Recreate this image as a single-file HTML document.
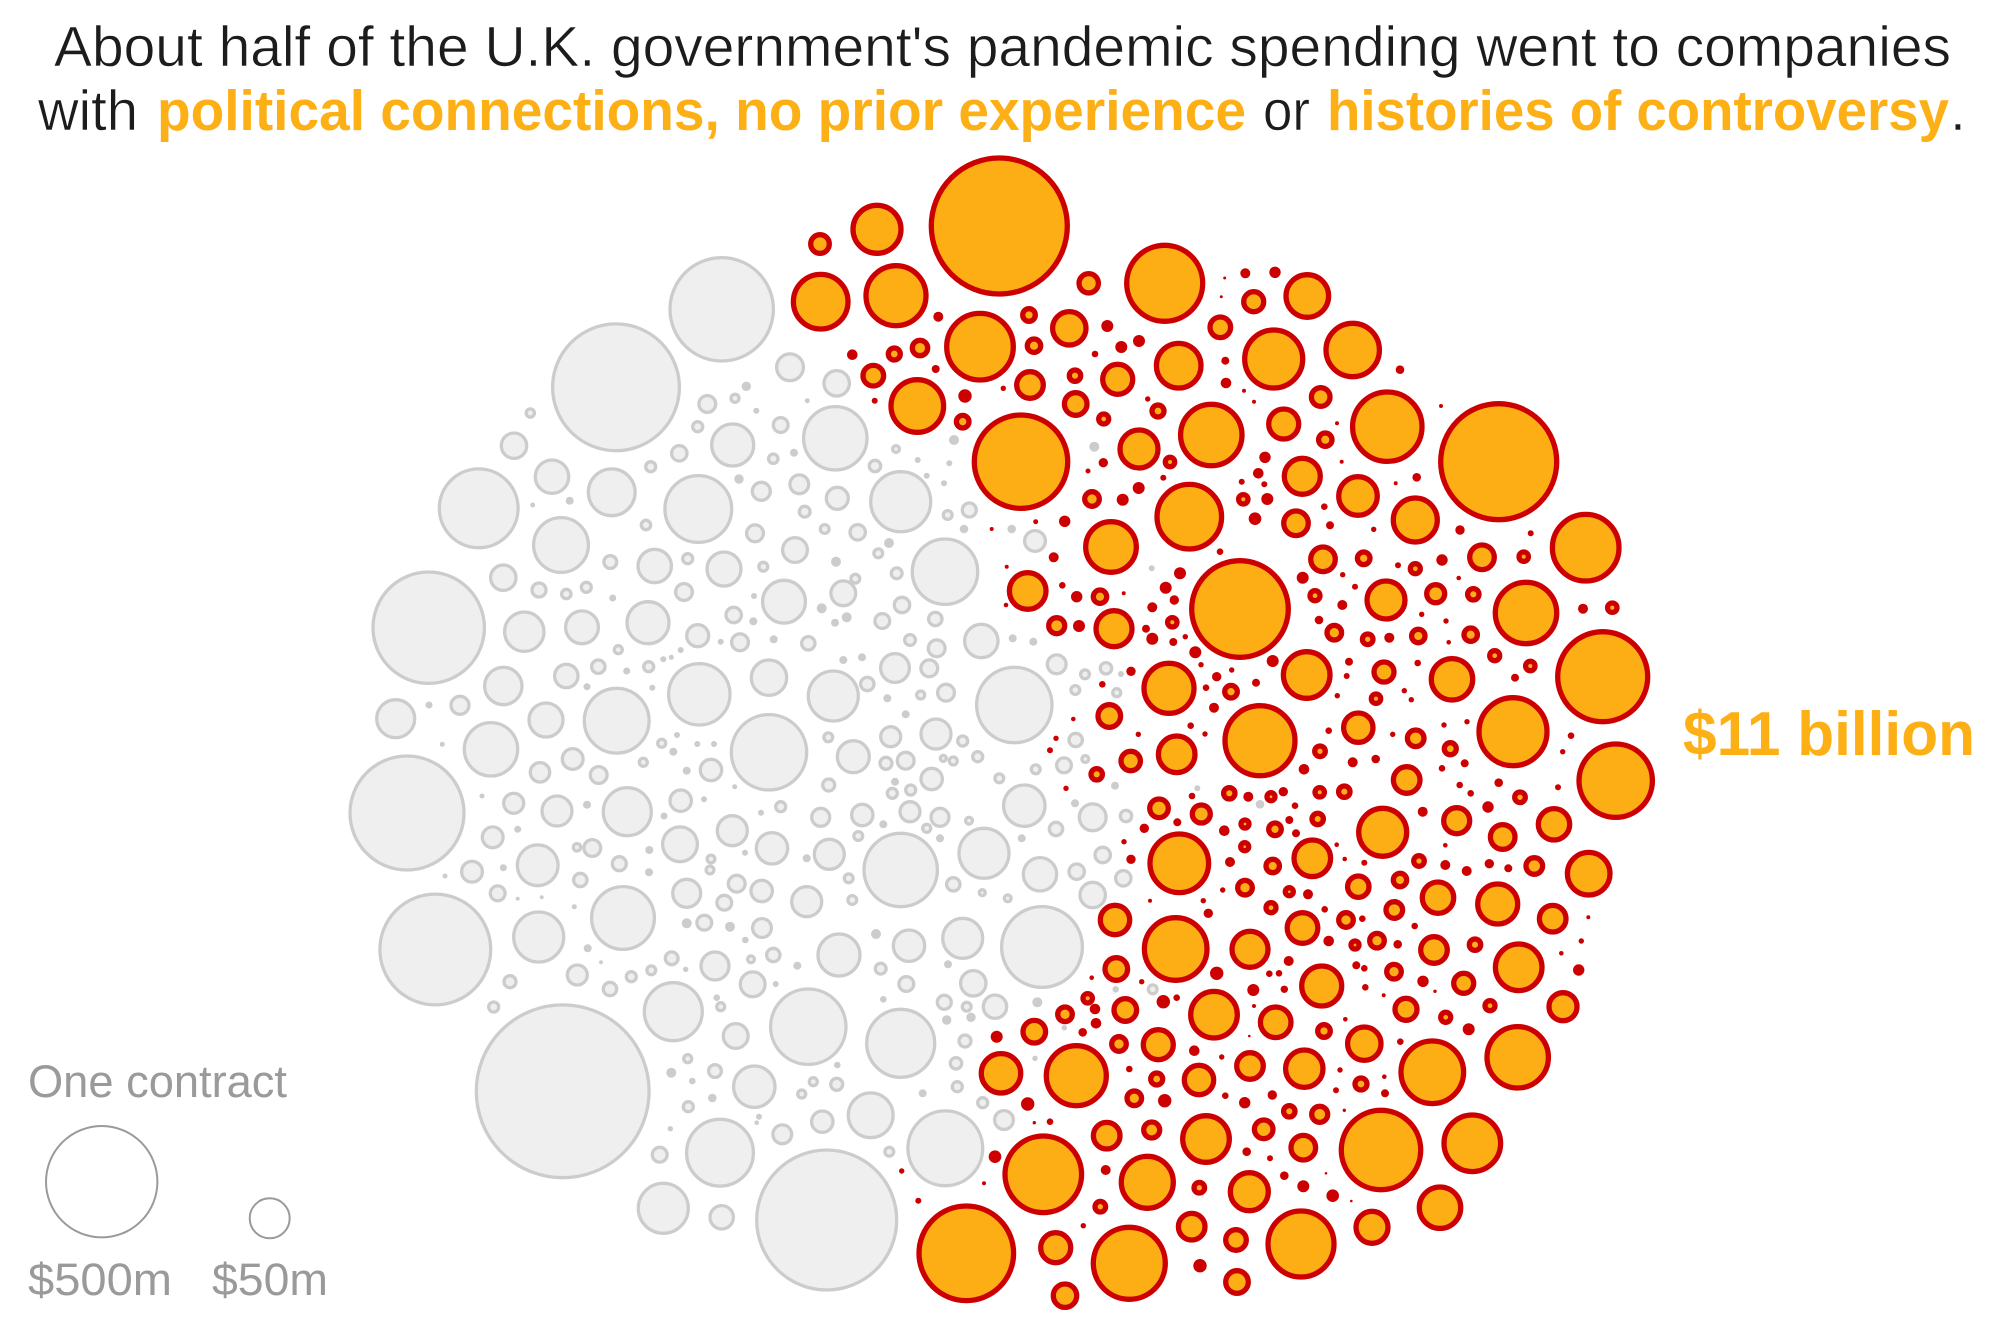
<!DOCTYPE html>
<html>
<head>
<meta charset="utf-8">
<style>
html,body{margin:0;padding:0;background:#fff;}
svg{display:block;}
.g circle{fill:#efefef;stroke:#cccccc;stroke-width:3.3;}
.gd circle{fill:#cccccc;}
.o circle{fill:#fdae14;stroke:#cc0000;stroke-width:5.3;}
.r circle{fill:#cc0000;}
text{font-family:"Liberation Sans",Arial,sans-serif;}
.t{fill:#1c1c1c;stroke:#fff;stroke-width:0.6;}
</style>
</head>
<body>
<svg width="2000" height="1331" viewBox="0 0 2000 1331" xmlns="http://www.w3.org/2000/svg">
<rect width="2000" height="1331" fill="#fff"/>
<text class="t" x="54" y="66" font-size="57" textLength="1897" lengthAdjust="spacingAndGlyphs">About half of the U.K. government's pandemic spending went to companies</text>
<text class="t" x="38" y="130" font-size="57" textLength="100" lengthAdjust="spacingAndGlyphs">with</text>
<text x="157" y="130" font-size="57" font-weight="bold" fill="#fdb015" textLength="1089" lengthAdjust="spacingAndGlyphs">political connections, no prior experience</text>
<text class="t" x="1263" y="130" font-size="57" textLength="47" lengthAdjust="spacingAndGlyphs">or</text>
<text x="1327" y="130" font-size="57" font-weight="bold" fill="#fdb015" textLength="622" lengthAdjust="spacingAndGlyphs">histories of controversy</text>
<text class="t" x="1950" y="130" font-size="57">.</text>
<text x="28" y="1097" font-size="45" fill="#9a9a9a" textLength="259" lengthAdjust="spacingAndGlyphs">One contract</text>
<circle cx="101.7" cy="1181.7" r="55.7" fill="none" stroke="#9a9a9a" stroke-width="2"/>
<circle cx="269.7" cy="1218.3" r="20" fill="none" stroke="#9a9a9a" stroke-width="2"/>
<text x="28" y="1295" font-size="45" fill="#9a9a9a" textLength="144" lengthAdjust="spacingAndGlyphs">$500m</text>
<text x="212" y="1295" font-size="45" fill="#9a9a9a" textLength="116" lengthAdjust="spacingAndGlyphs">$50m</text>
<text x="1683" y="755" font-size="62" font-weight="bold" fill="#fdb015" textLength="292" lengthAdjust="spacingAndGlyphs">$11 billion</text>
<g class="g">
<circle cx="721.7" cy="309.3" r="51.7"/><circle cx="616" cy="387.3" r="63.4"/><circle cx="478.7" cy="508.3" r="39.4"/><circle cx="514" cy="445.7" r="12.7"/><circle cx="530.3" cy="413" r="4.1"/><circle cx="552" cy="476.7" r="16.7"/><circle cx="611.7" cy="492.3" r="23.4"/><circle cx="698.3" cy="509" r="33.4"/><circle cx="732.7" cy="445" r="21"/><circle cx="707.3" cy="404" r="8.4"/><circle cx="679.3" cy="453.3" r="7.7"/><circle cx="697.7" cy="426.7" r="5"/><circle cx="735" cy="398.3" r="4"/><circle cx="650.7" cy="466.7" r="5"/><circle cx="780.7" cy="425" r="7.4"/><circle cx="773.3" cy="458.7" r="4.7"/><circle cx="761.3" cy="491.3" r="9"/><circle cx="790" cy="367.3" r="13.4"/><circle cx="646" cy="525" r="4.7"/><circle cx="561" cy="545" r="27.4"/><circle cx="755" cy="533.3" r="8.4"/>
<circle cx="835.3" cy="438.3" r="31.7"/><circle cx="836.7" cy="383.3" r="12.7"/><circle cx="900.7" cy="501.7" r="30"/><circle cx="799.3" cy="484.3" r="9.4"/><circle cx="837.3" cy="498.3" r="11"/><circle cx="875" cy="466" r="5.7"/><circle cx="896" cy="449" r="3.4"/><circle cx="804.7" cy="511.7" r="5.4"/><circle cx="824.7" cy="529" r="4.4"/><circle cx="857.7" cy="532.3" r="7.7"/><circle cx="969.3" cy="510" r="7"/><circle cx="947.7" cy="515" r="4.4"/><circle cx="1035" cy="541" r="10.4"/>
<circle cx="428.7" cy="627.7" r="55.7"/><circle cx="407" cy="813" r="57"/><circle cx="395.7" cy="718.7" r="19"/><circle cx="460" cy="705.3" r="9"/><circle cx="503.3" cy="577.7" r="12.7"/><circle cx="524.3" cy="631.7" r="19.7"/><circle cx="503.3" cy="686" r="18.7"/><circle cx="491" cy="749.3" r="26.7"/><circle cx="546" cy="720" r="17"/><circle cx="539" cy="590" r="7"/><circle cx="566.3" cy="594" r="4.7"/><circle cx="586.3" cy="587.3" r="5"/><circle cx="610.3" cy="562" r="6.4"/><circle cx="654.7" cy="566" r="16.7"/><circle cx="687.7" cy="558.7" r="5"/><circle cx="724" cy="569" r="17"/><circle cx="763.3" cy="566.7" r="4.4"/><circle cx="784" cy="601.7" r="21.4"/><circle cx="582" cy="627.3" r="16.4"/><circle cx="648" cy="622.7" r="21"/><circle cx="697.7" cy="635.7" r="11"/><circle cx="733.7" cy="615" r="7.7"/><circle cx="740" cy="642.3" r="8.4"/><circle cx="684" cy="592" r="8.4"/><circle cx="566.3" cy="676" r="11.7"/><circle cx="598.3" cy="666.7" r="6.7"/><circle cx="618.3" cy="649.7" r="4"/><circle cx="648.7" cy="666.7" r="5"/><circle cx="616.7" cy="720.7" r="32.4"/><circle cx="699.3" cy="694.3" r="30.7"/><circle cx="769" cy="677.7" r="17.7"/><circle cx="769" cy="752.3" r="37.7"/><circle cx="572.7" cy="759" r="10.4"/><circle cx="540" cy="772.3" r="9.7"/><circle cx="598.7" cy="775" r="8.4"/><circle cx="513.7" cy="803.3" r="10"/><circle cx="557" cy="811" r="15"/><circle cx="627.3" cy="811.7" r="24"/><circle cx="680.7" cy="800.7" r="10.7"/><circle cx="711" cy="770" r="10.7"/><circle cx="732.3" cy="830.7" r="15"/><circle cx="772" cy="848.3" r="15.7"/><circle cx="680" cy="844.3" r="17.4"/><circle cx="492.7" cy="837.3" r="10.4"/><circle cx="537.7" cy="865.3" r="20.4"/><circle cx="592.3" cy="848" r="8.4"/><circle cx="577" cy="847.3" r="3.7"/><circle cx="619.3" cy="863.7" r="7"/><circle cx="472" cy="871.7" r="10.4"/><circle cx="497.7" cy="893.3" r="7.4"/><circle cx="580.3" cy="880" r="6.7"/><circle cx="686.7" cy="893.3" r="14"/><circle cx="736.7" cy="883.7" r="8.4"/><circle cx="761.7" cy="891" r="10.7"/><circle cx="724.3" cy="902.7" r="7.4"/><circle cx="623" cy="918" r="31.4"/><circle cx="435.3" cy="949.5" r="55.4"/><circle cx="538.7" cy="937" r="25"/><circle cx="762" cy="928" r="9.4"/><circle cx="711" cy="859" r="3.9"/><circle cx="710" cy="870" r="3.9"/><circle cx="780.7" cy="806.7" r="5"/><circle cx="661.7" cy="743.3" r="4"/><circle cx="643.3" cy="762.3" r="4"/><circle cx="704.3" cy="922.7" r="7.4"/>
<circle cx="945" cy="571.7" r="32.7"/><circle cx="1014.3" cy="705" r="37.7"/><circle cx="833.3" cy="696" r="25"/><circle cx="981.3" cy="641" r="16.7"/><circle cx="843.3" cy="593.3" r="12.4"/><circle cx="855.3" cy="578.7" r="4.4"/><circle cx="902" cy="605" r="7.7"/><circle cx="882.3" cy="621" r="7.4"/><circle cx="935.3" cy="619" r="6.7"/><circle cx="808.3" cy="643.3" r="6.7"/><circle cx="936.7" cy="648.3" r="8.4"/><circle cx="895" cy="668" r="14.4"/><circle cx="929.3" cy="668.3" r="8.4"/><circle cx="867.3" cy="684" r="6.7"/><circle cx="946" cy="692.7" r="8.4"/><circle cx="920.7" cy="695" r="4"/><circle cx="1056.7" cy="664.3" r="9.4"/><circle cx="1085" cy="674.3" r="4.4"/><circle cx="1106" cy="668.3" r="5.7"/><circle cx="1075.3" cy="690" r="4.4"/><circle cx="1116.7" cy="692.7" r="4"/><circle cx="853.3" cy="756.7" r="16"/><circle cx="890.7" cy="736.7" r="10"/><circle cx="936" cy="734" r="15"/><circle cx="828.3" cy="737.3" r="4.4"/><circle cx="905.7" cy="760.7" r="8.4"/><circle cx="886" cy="763.3" r="6"/><circle cx="962.7" cy="741" r="5"/><circle cx="977.7" cy="756.7" r="5"/><circle cx="953.3" cy="761" r="4"/><circle cx="943.3" cy="758.3" r="3"/><circle cx="931.7" cy="779" r="10.7"/><circle cx="828.7" cy="785" r="6"/><circle cx="910.7" cy="790" r="5"/><circle cx="892.3" cy="793.3" r="5"/><circle cx="1075.7" cy="740" r="6.7"/><circle cx="1064" cy="765.3" r="7.4"/><circle cx="1085.3" cy="759" r="3.4"/><circle cx="1035.7" cy="769.3" r="4.4"/><circle cx="999.3" cy="778.3" r="4.4"/><circle cx="1024.3" cy="805.7" r="20.7"/><circle cx="1092.7" cy="817.3" r="13.4"/><circle cx="1126" cy="816" r="5.7"/><circle cx="820.7" cy="817.3" r="9"/><circle cx="862.3" cy="815" r="10.7"/><circle cx="910" cy="811.7" r="10"/><circle cx="940" cy="817.3" r="9"/><circle cx="969" cy="820.7" r="3.4"/><circle cx="926.7" cy="828.3" r="4"/><circle cx="858.3" cy="836" r="4.4"/><circle cx="1056" cy="829" r="6.7"/><circle cx="829.3" cy="854.3" r="15"/><circle cx="900.7" cy="870" r="36.7"/><circle cx="984" cy="853.3" r="25"/><circle cx="1040" cy="874.3" r="16.7"/><circle cx="1102.7" cy="855" r="7.7"/><circle cx="1076.7" cy="871.7" r="7.7"/><circle cx="1123.3" cy="878.3" r="7.7"/><circle cx="1092.7" cy="895" r="12.7"/><circle cx="953.3" cy="884.3" r="6.7"/><circle cx="848.7" cy="878.3" r="4.4"/><circle cx="852.3" cy="900" r="4.4"/><circle cx="806.7" cy="901.7" r="15"/><circle cx="982.3" cy="892.7" r="3"/><circle cx="1007.7" cy="898.3" r="3.4"/><circle cx="1042" cy="947" r="40.4"/><circle cx="962.7" cy="938.3" r="20"/><circle cx="795" cy="550" r="12.4"/><circle cx="878.3" cy="553.3" r="4.4"/><circle cx="896.7" cy="573.3" r="5.4"/><circle cx="910" cy="640" r="5.4"/>
<circle cx="562.7" cy="1091.3" r="86.4"/><circle cx="673.3" cy="1011.7" r="29"/><circle cx="720" cy="1152.7" r="33.4"/><circle cx="663.3" cy="1208.3" r="25"/><circle cx="721.7" cy="1217.3" r="11.7"/><circle cx="754.3" cy="1086.7" r="20.7"/><circle cx="735.7" cy="1036" r="12.4"/><circle cx="715" cy="966" r="14"/><circle cx="752.7" cy="984.3" r="12.4"/><circle cx="577.3" cy="975" r="10"/><circle cx="610" cy="989" r="6.7"/><circle cx="631.3" cy="976.7" r="5"/><circle cx="651.3" cy="970.3" r="4.4"/><circle cx="671.7" cy="958.3" r="6.4"/><circle cx="510" cy="981.7" r="6"/><circle cx="493.7" cy="1007" r="5"/><circle cx="687.7" cy="1058.7" r="4"/><circle cx="715" cy="1071" r="6.4"/><circle cx="688.3" cy="1106.7" r="5"/><circle cx="659.7" cy="1154.7" r="7.4"/><circle cx="782.3" cy="1134.3" r="9.4"/><circle cx="773.3" cy="955" r="6.7"/><circle cx="751" cy="959.3" r="3.4"/><circle cx="720.7" cy="1006.7" r="4"/>
<circle cx="826.7" cy="1220" r="70"/><circle cx="808.3" cy="1026.7" r="37.7"/><circle cx="900.7" cy="1043.3" r="34"/><circle cx="945.3" cy="1148.3" r="37.4"/><circle cx="839" cy="955" r="21"/><circle cx="909" cy="945.7" r="15.7"/><circle cx="870.7" cy="1115.3" r="22.4"/><circle cx="822.3" cy="1121.7" r="10.7"/><circle cx="973.3" cy="983.3" r="12.7"/><circle cx="995" cy="1006.7" r="11.7"/><circle cx="944.3" cy="1002.3" r="7"/><circle cx="966.7" cy="1006.7" r="4.4"/><circle cx="906.3" cy="984" r="7.4"/><circle cx="880.7" cy="968.7" r="5.4"/><circle cx="965" cy="1041" r="6"/><circle cx="956" cy="1063.3" r="5.7"/><circle cx="957.3" cy="1086.7" r="5"/><circle cx="982.7" cy="1102.7" r="5"/><circle cx="1004" cy="1120" r="9.4"/><circle cx="836.7" cy="1084.3" r="6"/><circle cx="813.3" cy="1081.7" r="4"/><circle cx="801.7" cy="1094" r="4"/><circle cx="889.3" cy="1151.7" r="4.4"/><circle cx="1152.7" cy="989.3" r="4.4"/>
</g>
<g class="gd">
<circle cx="746.3" cy="386.3" r="4.7"/><circle cx="739" cy="479" r="4.7"/><circle cx="569.7" cy="500.7" r="4"/><circle cx="756.3" cy="410.7" r="3"/><circle cx="532.7" cy="505" r="2.5"/><circle cx="954" cy="440" r="5"/><circle cx="1094.3" cy="446.7" r="5"/><circle cx="1011.7" cy="529" r="4.3"/><circle cx="964" cy="529" r="4.3"/><circle cx="794" cy="452.7" r="4"/><circle cx="917.7" cy="460" r="3"/><circle cx="944" cy="483.3" r="3"/><circle cx="949.3" cy="463.3" r="3"/><circle cx="926.7" cy="475.7" r="3"/><circle cx="807.3" cy="400.7" r="2.5"/><circle cx="673.3" cy="751.7" r="4"/><circle cx="686.7" cy="770.7" r="4"/><circle cx="429" cy="705" r="3.5"/><circle cx="442.3" cy="744.3" r="2.5"/><circle cx="503.3" cy="867.7" r="3.5"/><circle cx="517.7" cy="829.3" r="3.5"/><circle cx="587" cy="804.7" r="4"/><circle cx="587" cy="686.7" r="3.5"/><circle cx="612.7" cy="598" r="3.5"/><circle cx="626.7" cy="671" r="3.5"/><circle cx="652.3" cy="687.7" r="3"/><circle cx="677" cy="735" r="3"/><circle cx="697.3" cy="744" r="3"/><circle cx="714" cy="744" r="3"/><circle cx="773.7" cy="639.3" r="4"/><circle cx="753.3" cy="621.3" r="4"/><circle cx="680.7" cy="650" r="3"/><circle cx="663.3" cy="659.3" r="3"/><circle cx="671.3" cy="657.3" r="2.5"/><circle cx="720.7" cy="641.7" r="3"/><circle cx="754" cy="596" r="3"/><circle cx="704" cy="799.3" r="3"/><circle cx="664" cy="816" r="3.5"/><circle cx="649.3" cy="850" r="4"/><circle cx="649" cy="872.3" r="4"/><circle cx="745" cy="852.7" r="3"/><circle cx="761" cy="812.7" r="3"/><circle cx="734.7" cy="786.7" r="2.5"/><circle cx="482" cy="796" r="2.5"/><circle cx="445" cy="876" r="2.5"/><circle cx="517.7" cy="898.7" r="2"/><circle cx="541.7" cy="897.3" r="2"/><circle cx="574.3" cy="906.7" r="2.5"/><circle cx="686.7" cy="923.3" r="5"/><circle cx="730" cy="926.7" r="5"/><circle cx="895" cy="781.7" r="4"/><circle cx="836" cy="561.7" r="5"/><circle cx="889" cy="543" r="5"/><circle cx="821.7" cy="608.3" r="5"/><circle cx="846.7" cy="617.3" r="5"/><circle cx="835" cy="622.7" r="4"/><circle cx="843.3" cy="660" r="4"/><circle cx="862" cy="657.3" r="4"/><circle cx="887.3" cy="698.3" r="4"/><circle cx="905.7" cy="714.3" r="4"/><circle cx="1012.7" cy="638.3" r="4"/><circle cx="1033.3" cy="641.7" r="4"/><circle cx="1121" cy="674" r="3"/><circle cx="1115" cy="785.7" r="4"/><circle cx="1197.3" cy="788.3" r="3"/><circle cx="1075" cy="803.3" r="4"/><circle cx="1021.7" cy="838.3" r="4"/><circle cx="940" cy="838.3" r="4"/><circle cx="883.3" cy="824.3" r="4"/><circle cx="806.7" cy="858.3" r="4"/><circle cx="1151.7" cy="568.3" r="3"/><circle cx="671.3" cy="1072.7" r="5"/><circle cx="712.3" cy="1098" r="4.3"/><circle cx="692.3" cy="1081" r="3.3"/><circle cx="716.7" cy="997.7" r="3.3"/><circle cx="587.7" cy="948.3" r="4"/><circle cx="670.3" cy="1128.7" r="2.7"/><circle cx="759" cy="1116.7" r="3"/><circle cx="756.7" cy="1122.7" r="2.3"/><circle cx="745.3" cy="940" r="3.3"/><circle cx="775.7" cy="984" r="3"/><circle cx="685.7" cy="969.3" r="2.7"/><circle cx="601" cy="962.3" r="2"/><circle cx="1037.3" cy="1002.3" r="5"/><circle cx="946.7" cy="1020" r="4.7"/><circle cx="971" cy="1017.3" r="4.7"/><circle cx="797.3" cy="965.7" r="4"/><circle cx="948" cy="964.3" r="4"/><circle cx="922.7" cy="1093.3" r="4"/><circle cx="883.3" cy="999.3" r="3.3"/><circle cx="837.3" cy="1065" r="3.3"/><circle cx="1115.7" cy="989.3" r="3.3"/><circle cx="1064.3" cy="1027.7" r="2.7"/><circle cx="1035" cy="1058.3" r="2.7"/><circle cx="876" cy="934" r="5"/><circle cx="1260" cy="804.3" r="4.3"/>
</g>
<g class="o">
<circle cx="999.3" cy="226" r="68"/><circle cx="877" cy="229.3" r="24"/><circle cx="820" cy="244" r="9.3"/><circle cx="820.7" cy="301.7" r="27.3"/><circle cx="896" cy="295.7" r="30"/><circle cx="1164.7" cy="283.3" r="38"/><circle cx="1088.7" cy="283.3" r="9.7"/><circle cx="980" cy="346.7" r="33.3"/><circle cx="1029" cy="315" r="6.3"/><circle cx="1069.3" cy="328.3" r="16.7"/><circle cx="1034" cy="345.7" r="6.7"/><circle cx="920" cy="348" r="7.7"/><circle cx="894.3" cy="354" r="6"/><circle cx="873.3" cy="375.7" r="10.3"/><circle cx="917.3" cy="406" r="26.3"/><circle cx="962.7" cy="421.7" r="6.3"/><circle cx="1030" cy="385" r="13.3"/><circle cx="1075" cy="375.7" r="5.7"/><circle cx="1075.7" cy="404" r="11.3"/><circle cx="1117.7" cy="379.3" r="15"/><circle cx="1178.7" cy="365.7" r="22.3"/><circle cx="1220.3" cy="327.3" r="10.3"/><circle cx="1158" cy="411" r="6"/><circle cx="1103.7" cy="419" r="5"/><circle cx="1021" cy="461.7" r="46.7"/><circle cx="1139" cy="449" r="19"/><circle cx="1211.3" cy="435" r="30.7"/><circle cx="1170" cy="462" r="4.7"/><circle cx="1092" cy="499" r="7.3"/><circle cx="1189.3" cy="516.7" r="32.3"/><circle cx="1111" cy="547" r="25.3"/>
<circle cx="1498.7" cy="461.7" r="58"/><circle cx="1387.3" cy="426.7" r="34.7"/><circle cx="1273.7" cy="359" r="29"/><circle cx="1352.7" cy="350" r="26.7"/><circle cx="1307.3" cy="296" r="21.3"/><circle cx="1253.7" cy="301.7" r="10"/><circle cx="1320.7" cy="397" r="9.3"/><circle cx="1283.7" cy="424" r="15"/><circle cx="1325.3" cy="439.7" r="6.7"/><circle cx="1302.3" cy="476.3" r="18"/><circle cx="1358" cy="496" r="19.3"/><circle cx="1415.3" cy="520" r="22"/><circle cx="1296" cy="523.3" r="12.3"/><circle cx="1585.7" cy="547.7" r="33.3"/><circle cx="1243.3" cy="499.3" r="4.7"/>
<circle cx="1027.7" cy="591" r="18.3"/><circle cx="1056.7" cy="625.7" r="8"/><circle cx="1114" cy="628.7" r="18"/><circle cx="1100" cy="596.7" r="6.7"/><circle cx="1240" cy="609" r="48.3"/><circle cx="1169" cy="688.3" r="25"/><circle cx="1109.3" cy="716" r="11.3"/><circle cx="1176.7" cy="754.3" r="18.3"/><circle cx="1130.7" cy="761" r="9.7"/><circle cx="1096.7" cy="774.3" r="5.7"/><circle cx="1231" cy="691.7" r="6.3"/><circle cx="1159" cy="808.3" r="9.3"/><circle cx="1201.3" cy="814" r="9"/><circle cx="1229.3" cy="793.3" r="5.7"/><circle cx="1179.3" cy="863.3" r="29.3"/><circle cx="1115" cy="920" r="14.7"/><circle cx="1175.7" cy="949" r="31.3"/><circle cx="1172.3" cy="622.3" r="4.7"/>
<circle cx="1602.7" cy="676.7" r="45"/><circle cx="1615.7" cy="780.7" r="36.7"/><circle cx="1526" cy="613" r="30.7"/><circle cx="1513" cy="731.7" r="34"/><circle cx="1452" cy="679.3" r="20.7"/><circle cx="1386" cy="600" r="19"/><circle cx="1306.7" cy="675" r="23.3"/><circle cx="1260" cy="740.7" r="35"/><circle cx="1358.3" cy="727.7" r="14.7"/><circle cx="1382.7" cy="832.3" r="24"/><circle cx="1312.3" cy="858.3" r="18.3"/><circle cx="1456.7" cy="820.7" r="13"/><circle cx="1554" cy="824.3" r="15.7"/><circle cx="1502.7" cy="837" r="12.3"/><circle cx="1588.7" cy="873.7" r="21.3"/><circle cx="1497.7" cy="904" r="20"/><circle cx="1438" cy="897.7" r="15.7"/><circle cx="1552.7" cy="918.7" r="13.3"/><circle cx="1406.7" cy="780" r="13.3"/><circle cx="1384" cy="672" r="10"/><circle cx="1323" cy="559.3" r="12.3"/><circle cx="1482" cy="557.3" r="12.3"/><circle cx="1435.7" cy="593.7" r="9"/><circle cx="1473.3" cy="594.3" r="5.7"/><circle cx="1334.3" cy="632.7" r="7.3"/><circle cx="1418.3" cy="636" r="6.7"/><circle cx="1470.7" cy="634.7" r="6.7"/><circle cx="1363.7" cy="558.3" r="6.3"/><circle cx="1415.3" cy="568.7" r="5"/><circle cx="1523.7" cy="556.7" r="4.7"/><circle cx="1315" cy="595.7" r="5"/><circle cx="1367.7" cy="639.3" r="5.3"/><circle cx="1415.7" cy="738.3" r="8.3"/><circle cx="1450.3" cy="748.7" r="6"/><circle cx="1320" cy="751.3" r="5.3"/><circle cx="1494.7" cy="655.7" r="5"/><circle cx="1530.3" cy="666" r="4.7"/><circle cx="1612.3" cy="607.7" r="4.7"/><circle cx="1520" cy="797.3" r="5.3"/><circle cx="1344.3" cy="791.7" r="5.7"/><circle cx="1319.7" cy="792.3" r="4.7"/><circle cx="1317.7" cy="819" r="5.7"/><circle cx="1275" cy="829.3" r="6.3"/><circle cx="1272.7" cy="866" r="6.7"/><circle cx="1245" cy="824" r="4"/><circle cx="1244.7" cy="846.7" r="4"/><circle cx="1245" cy="887.7" r="7.3"/><circle cx="1358.3" cy="886.7" r="10.7"/><circle cx="1400" cy="880" r="6.7"/><circle cx="1419" cy="861" r="5.3"/><circle cx="1534.3" cy="866" r="8.3"/><circle cx="1394.3" cy="910" r="8.3"/><circle cx="1346" cy="920" r="7.3"/><circle cx="1302.5" cy="928" r="15.3"/><circle cx="1271" cy="907.7" r="5"/><circle cx="1271" cy="796.7" r="4"/><circle cx="1376" cy="698.7" r="4.7"/><circle cx="1289.3" cy="891.7" r="4"/>
<circle cx="966.3" cy="1253.3" r="47.3"/><circle cx="1043.3" cy="1174.3" r="38.3"/><circle cx="1076.3" cy="1075.7" r="30"/><circle cx="1001" cy="1073.3" r="19.7"/><circle cx="1129.3" cy="1263.3" r="36"/><circle cx="1147.3" cy="1182.3" r="26"/><circle cx="1214" cy="1014.7" r="23.3"/><circle cx="1206" cy="1139" r="23.3"/><circle cx="1158.3" cy="1044.7" r="15"/><circle cx="1199" cy="1080" r="14.7"/><circle cx="1106.7" cy="1135.7" r="13.3"/><circle cx="1151.7" cy="1130" r="8"/><circle cx="1055.7" cy="1247.7" r="15"/><circle cx="1065" cy="1295.7" r="11.7"/><circle cx="1191.7" cy="1226.7" r="13.3"/><circle cx="1034.3" cy="1031.7" r="11.3"/><circle cx="1116.3" cy="969" r="11.3"/><circle cx="1125.3" cy="1010" r="11.3"/><circle cx="1065" cy="1014.3" r="7.3"/><circle cx="1119" cy="1044" r="7.3"/><circle cx="1156.7" cy="1079" r="6"/><circle cx="1134.3" cy="1098.3" r="7.3"/><circle cx="1100.3" cy="1206.7" r="5.3"/><circle cx="1199.3" cy="1187.7" r="5.3"/><circle cx="1087.7" cy="998.3" r="4.7"/>
<circle cx="1381" cy="1150" r="39.7"/><circle cx="1472.3" cy="1143.3" r="28.3"/><circle cx="1432.3" cy="1072.3" r="31.3"/><circle cx="1517.7" cy="1057.3" r="30.7"/><circle cx="1518.7" cy="967.3" r="23.3"/><circle cx="1563" cy="1006.7" r="14"/><circle cx="1440" cy="1207.7" r="20.7"/><circle cx="1301" cy="1244" r="33"/><circle cx="1372" cy="1227.3" r="16"/><circle cx="1321.7" cy="986" r="20"/><circle cx="1304.3" cy="1068.7" r="18.7"/><circle cx="1364.3" cy="1043.7" r="16.7"/><circle cx="1275.7" cy="1022.3" r="15.3"/><circle cx="1250" cy="949.3" r="18"/><circle cx="1434" cy="950" r="13.3"/><circle cx="1406" cy="1009.3" r="11"/><circle cx="1463.7" cy="983.3" r="10"/><circle cx="1303.3" cy="1147.7" r="12.3"/><circle cx="1263.7" cy="1129.3" r="9.3"/><circle cx="1249.3" cy="1191.7" r="19"/><circle cx="1250" cy="1066" r="13.3"/><circle cx="1377" cy="940.7" r="7.3"/><circle cx="1394" cy="971.7" r="7.3"/><circle cx="1475" cy="944.7" r="5.7"/><circle cx="1490" cy="1005.7" r="5"/><circle cx="1445.7" cy="1017.3" r="5"/><circle cx="1324" cy="1031" r="6.3"/><circle cx="1361" cy="1084" r="6"/><circle cx="1319.7" cy="1114.3" r="8"/><circle cx="1289.3" cy="1111.3" r="5.7"/><circle cx="1355" cy="945" r="4"/><circle cx="1236" cy="1240" r="10.3"/><circle cx="1237" cy="1282" r="11.3"/>
</g>
<g class="r">
<circle cx="938.3" cy="316.7" r="5"/><circle cx="852.3" cy="354.7" r="5.3"/><circle cx="935.7" cy="369" r="4"/><circle cx="965" cy="396" r="6.7"/><circle cx="874.7" cy="400.7" r="3"/><circle cx="1003.3" cy="388.3" r="2.7"/><circle cx="1107.3" cy="326" r="6"/><circle cx="1121.3" cy="347" r="6"/><circle cx="1139" cy="341" r="6"/><circle cx="1095" cy="354" r="3.3"/><circle cx="1225.3" cy="360.7" r="4"/><circle cx="1226" cy="383" r="5.3"/><circle cx="1147.7" cy="399" r="2.7"/><circle cx="1103.3" cy="462.7" r="4.7"/><circle cx="1138.7" cy="488" r="6"/><circle cx="1122.7" cy="499.7" r="6"/><circle cx="1064.7" cy="521.3" r="5.7"/><circle cx="1163.3" cy="477.7" r="3"/><circle cx="1088" cy="471" r="2.5"/><circle cx="1035.7" cy="521.7" r="2.5"/><circle cx="991.7" cy="529" r="2"/><circle cx="1224.7" cy="278" r="1.5"/><circle cx="1221.3" cy="296.7" r="1.5"/>
<circle cx="1245.3" cy="273.3" r="5"/><circle cx="1275" cy="272.3" r="5.7"/><circle cx="1400" cy="369.7" r="4.3"/><circle cx="1265" cy="457.3" r="5.7"/><circle cx="1258.3" cy="473.3" r="5.3"/><circle cx="1267.3" cy="499" r="6"/><circle cx="1255" cy="518.7" r="6.3"/><circle cx="1416.7" cy="477.3" r="4.3"/><circle cx="1460" cy="530" r="4.7"/><circle cx="1324.3" cy="506.7" r="3.3"/><circle cx="1330" cy="525.3" r="4"/><circle cx="1373.7" cy="529.3" r="2.7"/><circle cx="1530.7" cy="533.3" r="3"/><circle cx="1441" cy="406" r="2"/><circle cx="1244" cy="390.7" r="2"/><circle cx="1254" cy="401.7" r="2"/><circle cx="1337" cy="423.3" r="2"/><circle cx="1341.7" cy="461.7" r="2"/><circle cx="1395.7" cy="483.3" r="2"/><circle cx="1264.3" cy="484.3" r="3"/><circle cx="1241.7" cy="481.7" r="3"/>
<circle cx="1076.7" cy="596.7" r="5.7"/><circle cx="1079" cy="626" r="6"/><circle cx="1053.7" cy="557.3" r="5"/><circle cx="1062.3" cy="585.3" r="3.3"/><circle cx="1180" cy="573.3" r="6"/><circle cx="1165.7" cy="587.7" r="6"/><circle cx="1174.3" cy="600" r="4.7"/><circle cx="1152.3" cy="607.3" r="5"/><circle cx="1146" cy="628.7" r="4"/><circle cx="1152.3" cy="638.7" r="6"/><circle cx="1173.3" cy="642" r="4"/><circle cx="1185.3" cy="636.7" r="2.7"/><circle cx="1195.3" cy="652.3" r="6"/><circle cx="1131" cy="671.3" r="4.7"/><circle cx="1102.3" cy="684.3" r="3.3"/><circle cx="1206" cy="687.7" r="3.3"/><circle cx="1216.7" cy="676.7" r="4.7"/><circle cx="1214" cy="707.7" r="5"/><circle cx="1190.7" cy="725.7" r="3.3"/><circle cx="1205" cy="734" r="2.7"/><circle cx="1138.3" cy="734.3" r="2.7"/><circle cx="1073.3" cy="719" r="2.3"/><circle cx="1056" cy="738.3" r="2.7"/><circle cx="1050" cy="750.3" r="3"/><circle cx="1066" cy="788.3" r="2.7"/><circle cx="1144.3" cy="828.3" r="4.7"/><circle cx="1177.3" cy="822.3" r="4"/><circle cx="1224.3" cy="830.7" r="5.3"/><circle cx="1192" cy="796" r="3.3"/><circle cx="1131" cy="859.3" r="4.7"/><circle cx="1124" cy="841.7" r="2.7"/><circle cx="1230" cy="862" r="5"/><circle cx="1222.7" cy="890" r="2.7"/><circle cx="1203.3" cy="900.7" r="2.7"/><circle cx="1208.3" cy="913.3" r="4.7"/><circle cx="1150" cy="900.7" r="2"/><circle cx="1231.7" cy="670" r="2.7"/><circle cx="1220" cy="551.7" r="3.3"/><circle cx="1201" cy="664.7" r="2.7"/><circle cx="1006" cy="605" r="2.3"/><circle cx="1006.7" cy="566.7" r="2"/><circle cx="1123.7" cy="593.3" r="2"/>
<circle cx="1583" cy="608.7" r="5"/><circle cx="1302.7" cy="577.7" r="6"/><circle cx="1272.7" cy="661" r="6"/><circle cx="1256" cy="682.7" r="4"/><circle cx="1304" cy="769.3" r="5.3"/><circle cx="1248.3" cy="796.7" r="5"/><circle cx="1283.3" cy="791.7" r="4.7"/><circle cx="1295" cy="805.7" r="3.3"/><circle cx="1289.3" cy="820" r="4"/><circle cx="1296" cy="833.3" r="4"/><circle cx="1319" cy="620" r="4.3"/><circle cx="1342.3" cy="605" r="5"/><circle cx="1349" cy="661.7" r="4"/><circle cx="1346.7" cy="676" r="3"/><circle cx="1337.3" cy="695.7" r="2.7"/><circle cx="1328.7" cy="730.7" r="3.3"/><circle cx="1352.7" cy="762.3" r="5"/><circle cx="1375.7" cy="759" r="4.3"/><circle cx="1389.3" cy="637.7" r="5"/><circle cx="1442" cy="560" r="5.7"/><circle cx="1398" cy="565.3" r="3"/><circle cx="1342.7" cy="574.7" r="2.7"/><circle cx="1355" cy="586.7" r="3"/><circle cx="1417.7" cy="663" r="3.3"/><circle cx="1404.3" cy="690.7" r="2.7"/><circle cx="1411.3" cy="699.7" r="2.7"/><circle cx="1392.7" cy="734.3" r="2.7"/><circle cx="1442" cy="768.3" r="3.3"/><circle cx="1464.7" cy="763.3" r="4"/><circle cx="1459.7" cy="785" r="3.3"/><circle cx="1470.7" cy="793.3" r="3.3"/><circle cx="1488" cy="807" r="5.7"/><circle cx="1498.7" cy="782.7" r="4.3"/><circle cx="1422.7" cy="811.7" r="5"/><circle cx="1445.3" cy="845.3" r="2.3"/><circle cx="1466.7" cy="871" r="5"/><circle cx="1445.3" cy="865" r="5"/><circle cx="1489.3" cy="863.7" r="4.7"/><circle cx="1508.3" cy="868.3" r="4"/><circle cx="1515" cy="677.7" r="4"/><circle cx="1571" cy="735.7" r="3.3"/><circle cx="1562.7" cy="751.7" r="2.7"/><circle cx="1558" cy="787.3" r="3"/><circle cx="1444" cy="725" r="2.7"/><circle cx="1467" cy="721.7" r="2.7"/><circle cx="1446" cy="621" r="2.7"/><circle cx="1448.7" cy="642.3" r="2.3"/><circle cx="1421.7" cy="614.3" r="2.7"/><circle cx="1458.7" cy="578" r="2.3"/><circle cx="1364.3" cy="862.7" r="3"/><circle cx="1336.7" cy="844.7" r="2.3"/><circle cx="1344.7" cy="859" r="2.3"/><circle cx="1308" cy="894.3" r="5"/><circle cx="1324.7" cy="909.3" r="3.3"/><circle cx="1362.3" cy="918.7" r="3.3"/><circle cx="1414.7" cy="926" r="3.3"/><circle cx="1588.3" cy="917.3" r="2"/>
<circle cx="996.7" cy="1036.7" r="6"/><circle cx="1027.7" cy="1104" r="6.7"/><circle cx="995" cy="1156.7" r="6.3"/><circle cx="1096" cy="1023.3" r="5.3"/><circle cx="1095" cy="1009" r="5.3"/><circle cx="1082.7" cy="1032.3" r="4.3"/><circle cx="1194.3" cy="1050.7" r="5.3"/><circle cx="1129.3" cy="1069" r="3.3"/><circle cx="1164.7" cy="1100.7" r="6.7"/><circle cx="1216.7" cy="973.3" r="6.7"/><circle cx="1163.3" cy="1001.7" r="6.7"/><circle cx="1176.7" cy="997.7" r="3.3"/><circle cx="1141.7" cy="981.7" r="2.7"/><circle cx="1091.7" cy="977.7" r="2.3"/><circle cx="1105.7" cy="1170" r="5"/><circle cx="1083.3" cy="1225.7" r="2.7"/><circle cx="1050" cy="1121.7" r="3.3"/><circle cx="1034.3" cy="1122.7" r="1.7"/><circle cx="901.7" cy="1171" r="2.7"/><circle cx="918.3" cy="1200.7" r="3"/><circle cx="984" cy="1183.3" r="2"/><circle cx="1200" cy="1265.7" r="6.7"/><circle cx="1221.7" cy="1057" r="2.7"/><circle cx="1225.3" cy="1095.7" r="3.3"/>
<circle cx="1328.7" cy="941" r="5.3"/><circle cx="1397.7" cy="944.3" r="4.3"/><circle cx="1288.7" cy="961" r="5"/><circle cx="1356.3" cy="965.3" r="4"/><circle cx="1364.3" cy="968.3" r="3.3"/><circle cx="1269.3" cy="973.7" r="3.3"/><circle cx="1279" cy="973.3" r="3.3"/><circle cx="1253.3" cy="990" r="6"/><circle cx="1284.3" cy="989.3" r="3.7"/><circle cx="1423" cy="981.3" r="5.7"/><circle cx="1365.3" cy="987.3" r="3.3"/><circle cx="1383.7" cy="995.3" r="2"/><circle cx="1435" cy="991.3" r="1.7"/><circle cx="1561.3" cy="953.3" r="2.3"/><circle cx="1581.3" cy="941" r="2.7"/><circle cx="1578.7" cy="970" r="5.7"/><circle cx="1468.7" cy="1029.3" r="6"/><circle cx="1400.3" cy="1041.7" r="3.3"/><circle cx="1345.3" cy="1019.3" r="2.3"/><circle cx="1340" cy="1070" r="2.7"/><circle cx="1384.3" cy="1076.7" r="2.3"/><circle cx="1385" cy="1093.3" r="4"/><circle cx="1336" cy="1090.3" r="3"/><circle cx="1272.3" cy="1095" r="4.7"/><circle cx="1244.7" cy="1102.7" r="5.7"/><circle cx="1344.3" cy="1110.3" r="1.7"/><circle cx="1246.7" cy="1151.7" r="4.3"/><circle cx="1270" cy="1158.3" r="3"/><circle cx="1284.3" cy="1175.7" r="4.3"/><circle cx="1303.3" cy="1186.3" r="6"/><circle cx="1332.7" cy="1195.7" r="6.3"/><circle cx="1351.3" cy="1201" r="1.3"/><circle cx="1326" cy="1173.3" r="1.3"/><circle cx="1249.3" cy="1036" r="1.3"/><circle cx="1254" cy="1006" r="2"/>
</g>
</svg>
</body>
</html>
